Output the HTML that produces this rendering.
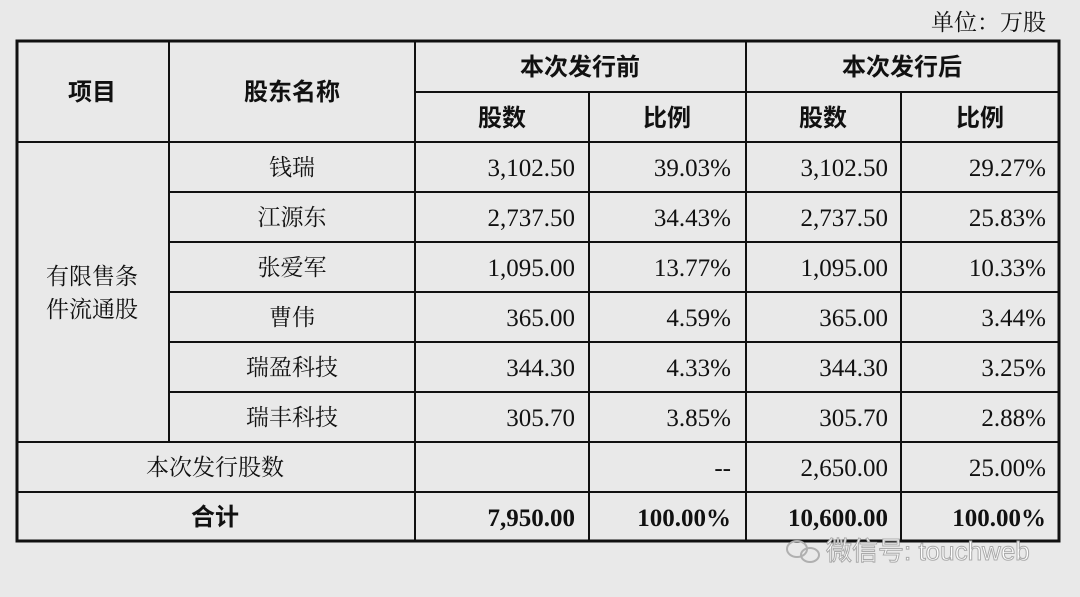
<!DOCTYPE html>
<html><head><meta charset="utf-8"><style>
html,body{margin:0;padding:0;background:#e9e9e9;}
svg{display:block}
text{font-family:"Liberation Serif","Noto Serif CJK SC",serif;font-size:25px;fill:#111}
.h{font-family:"Liberation Sans","Noto Sans CJK SC",sans-serif;font-weight:bold;font-size:24px}
.c{font-family:"Liberation Sans","Noto Serif CJK SC",serif;font-size:23px}
.b{font-weight:bold}
</style></head><body>
<svg width="1080" height="597" viewBox="0 0 1080 597">
<rect width="1080" height="597" fill="#e9e9e9"/>
<text x="1046" y="30" text-anchor="end" class="c">单位：万股</text>
<g stroke="#111" stroke-width="2">
<line x1="415" y1="92" x2="1060" y2="92"/>
<line x1="16" y1="142" x2="1060" y2="142"/>
<line x1="169" y1="192" x2="1060" y2="192"/>
<line x1="169" y1="242" x2="1060" y2="242"/>
<line x1="169" y1="292" x2="1060" y2="292"/>
<line x1="169" y1="342" x2="1060" y2="342"/>
<line x1="169" y1="392" x2="1060" y2="392"/>
<line x1="16" y1="442" x2="1060" y2="442"/>
<line x1="16" y1="492" x2="1060" y2="492"/>
<line x1="169" y1="40" x2="169" y2="442"/>
<line x1="415" y1="40" x2="415" y2="542"/>
<line x1="589" y1="92" x2="589" y2="542"/>
<line x1="746" y1="40" x2="746" y2="542"/>
<line x1="901" y1="92" x2="901" y2="542"/>
</g>
<rect x="17" y="41" width="1042" height="500" fill="none" stroke="#111" stroke-width="3"/>
<g text-anchor="middle">
<text x="92" y="100" class="h">项目</text>
<text x="292" y="100" class="h">股东名称</text>
<text x="580" y="75" class="h">本次发行前</text>
<text x="502" y="126" class="h">股数</text>
<text x="667" y="126" class="h">比例</text>
<text x="902" y="75" class="h">本次发行后</text>
<text x="823" y="126" class="h">股数</text>
<text x="980" y="126" class="h">比例</text>
<text x="92" y="284" class="c">有限售条</text>
<text x="92" y="317" class="c">件流通股</text>
<text x="292" y="175" class="c">钱瑞</text>
<text x="292" y="225" class="c">江源东</text>
<text x="292" y="275" class="c">张爱军</text>
<text x="292" y="325" class="c">曹伟</text>
<text x="292" y="375" class="c">瑞盈科技</text>
<text x="292" y="425" class="c">瑞丰科技</text>
<text x="215" y="475" class="c">本次发行股数</text>
<text x="215" y="525" class="h">合计</text>
</g>
<g text-anchor="end">
<text x="575" y="176">3,102.50</text><text x="731" y="176">39.03%</text><text x="888" y="176">3,102.50</text><text x="1046" y="176">29.27%</text>
<text x="575" y="226">2,737.50</text><text x="731" y="226">34.43%</text><text x="888" y="226">2,737.50</text><text x="1046" y="226">25.83%</text>
<text x="575" y="276">1,095.00</text><text x="731" y="276">13.77%</text><text x="888" y="276">1,095.00</text><text x="1046" y="276">10.33%</text>
<text x="575" y="326">365.00</text><text x="731" y="326">4.59%</text><text x="888" y="326">365.00</text><text x="1046" y="326">3.44%</text>
<text x="575" y="376">344.30</text><text x="731" y="376">4.33%</text><text x="888" y="376">344.30</text><text x="1046" y="376">3.25%</text>
<text x="575" y="426">305.70</text><text x="731" y="426">3.85%</text><text x="888" y="426">305.70</text><text x="1046" y="426">2.88%</text>
<text x="731" y="476">--</text><text x="888" y="476">2,650.00</text><text x="1046" y="476">25.00%</text>
<text x="575" y="526" class="b">7,950.00</text><text x="731" y="526" class="b">100.00%</text><text x="888" y="526" class="b">10,600.00</text><text x="1046" y="526" class="b">100.00%</text>
</g>
<g fill="none" stroke="#b0b0b0" stroke-width="2">
<ellipse cx="797" cy="549" rx="10" ry="8"/>
<ellipse cx="810" cy="555" rx="9" ry="7"/>
</g>
<text x="826" y="560" style="font-family:'Liberation Sans','Noto Sans CJK SC',sans-serif;font-size:26px;fill:#fff;stroke:#aaa;stroke-width:1">微信号: touchweb</text>
</svg>
</body></html>
